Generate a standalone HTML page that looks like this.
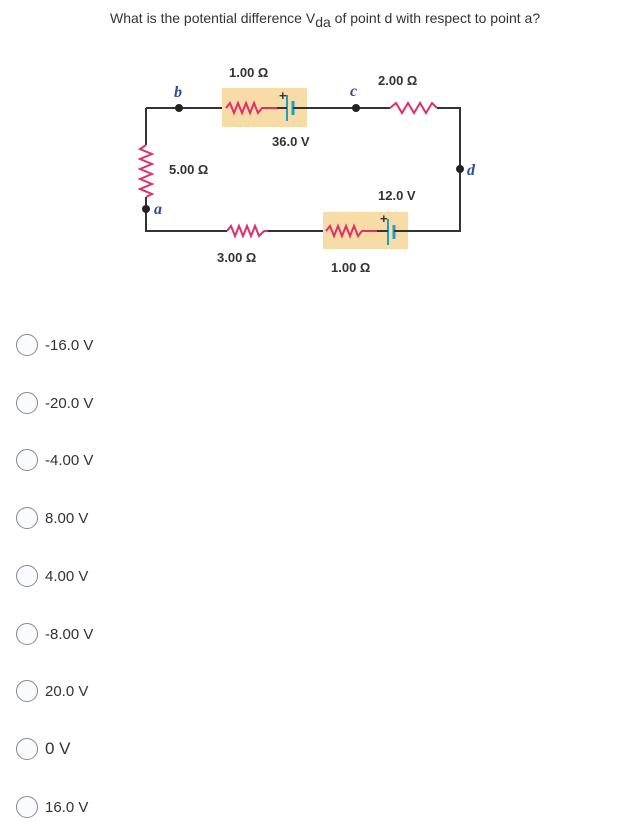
<!DOCTYPE html>
<html><head><meta charset="utf-8"><style>
body{margin:0;width:621px;height:828px;background:#fff;font-family:"Liberation Sans",sans-serif;position:relative;overflow:hidden}
.q{position:absolute;left:110px;top:10px;font-size:14px;color:#333;white-space:nowrap}
.o{position:absolute;left:16px;height:24px;display:flex;align-items:center}
.o .c{width:22px;height:22px;border:1px solid #888;border-radius:50%;background:#fafbff;box-sizing:border-box}
.o span{margin-left:7px;font-size:15px;color:#333}
</style></head><body>
<div class="q">What is the potential difference V<sub style="font-size:14px">da</sub> of point d with respect to point a?</div>
<svg style="position:absolute;left:0;top:0" width="621" height="300">
<rect x="222" y="88" width="85" height="39" fill="#f8dca8"/>
<rect x="323" y="212" width="85" height="37" fill="#f8dca8"/>
<g stroke="#333" stroke-width="2" fill="none">
<path d="M146 108H222M307 108H390M437 108H460V231H408M323 231H268M227 231H146V197M146 145V108"/>
</g>
<g stroke="#e0306a" stroke-width="2" fill="none">
<polyline points="146,145 140,149 152,154 140,159 152,164 140,169 152,174 140,179 152,184 140,189 152,194 146,197"/>
<polyline points="226,108 230,103 234,113 238,103 242,113 246,103 250,113 254,103 258,113 262,108 277,108"/>
<polyline points="390,108 396,103 402,113 408,103 414,113 420,103 426,113 432,103 437,108"/>
<polyline points="227,231 231,226 235,236 239,226 243,236 247,226 251,236 255,226 259,236 264,231 268,231"/>
<polyline points="326,231 330,226 334,236 338,226 342,236 346,226 350,236 354,226 358,236 362,231 377,231"/>
</g>
<g stroke="#1aa0c8" stroke-width="2">
<line x1="287" y1="95" x2="287" y2="121"/><line x1="293" y1="101" x2="293" y2="115" stroke-width="3"/>
<line x1="388" y1="219" x2="388" y2="245"/><line x1="394" y1="225" x2="394" y2="239" stroke-width="3"/>
</g>
<line x1="277" y1="108" x2="287" y2="108" stroke="#333" stroke-width="2"/><line x1="293" y1="108" x2="307" y2="108" stroke="#333" stroke-width="2"/>
<line x1="377" y1="231" x2="388" y2="231" stroke="#333" stroke-width="2"/><line x1="394" y1="231" x2="408" y2="231" stroke="#333" stroke-width="2"/>
<g font-family="Liberation Sans" font-weight="bold" font-size="13" fill="#333">
<text x="279" y="100">+</text><text x="380" y="223">+</text>
<text x="229" y="77">1.00 Ω</text><text x="378" y="85">2.00 Ω</text>
<text x="272" y="146">36.0 V</text><text x="169" y="174">5.00 Ω</text>
<text x="378" y="200">12.0 V</text><text x="217" y="262">3.00 Ω</text><text x="331" y="272">1.00 Ω</text>
</g>
<g fill="#222"><circle cx="179" cy="108" r="4"/><circle cx="356" cy="108" r="4"/><circle cx="460" cy="169" r="4"/><circle cx="146" cy="209" r="4"/></g>
<g font-family="Liberation Serif" font-style="italic" font-weight="bold" font-size="16" fill="#2a4c9a">
<text x="174" y="97">b</text><text x="350" y="96">c</text><text x="467" y="175">d</text><text x="154" y="214">a</text>
</g>
</svg>
<div class="o" style="top:333px"><div class="c"></div><span>-16.0 V</span></div>
<div class="o" style="top:391px"><div class="c"></div><span>-20.0 V</span></div>
<div class="o" style="top:448px"><div class="c"></div><span>-4.00 V</span></div>
<div class="o" style="top:506px"><div class="c"></div><span>8.00 V</span></div>
<div class="o" style="top:564px"><div class="c"></div><span>4.00 V</span></div>
<div class="o" style="top:622px"><div class="c"></div><span>-8.00 V</span></div>
<div class="o" style="top:679px"><div class="c"></div><span>20.0 V</span></div>
<div class="o" style="top:737px"><div class="c"></div><span style="font-size:17px">0 V</span></div>
<div class="o" style="top:795px"><div class="c"></div><span>16.0 V</span></div>
</body></html>
